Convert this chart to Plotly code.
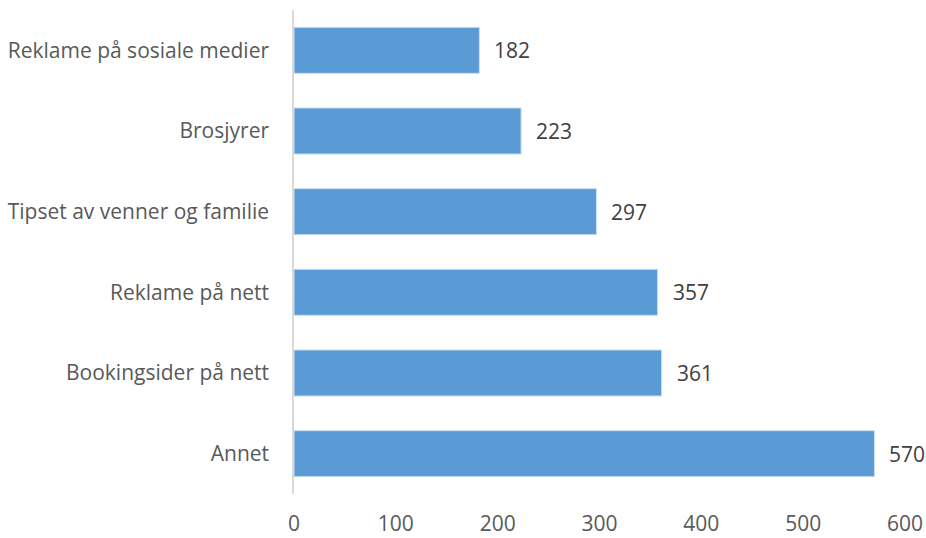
import plotly.graph_objects as go

# Survey: where respondents heard about the offer (counts)
categories = [
    "Annet",
    "Bookingsider på nett",
    "Reklame på nett",
    "Tipset av venner og familie",
    "Brosjyrer",
    "Reklame på sosiale medier",
]
counts = [570, 361, 357, 297, 223, 182]
x_ticks = [0, 100, 200, 300, 400, 500, 600]

FONT = "Open Sans"
TEXT_COLOR = "#595959"
BAR_COLOR = "#5B9BD5"
SIZE = 21

fig = go.Figure(
    go.Bar(
        x=counts,
        y=categories,
        orientation="h",
        marker=dict(color=BAR_COLOR, line=dict(color="#C9DDF0", width=1)),
        hoverinfo="x+y",
    )
)

# value labels just right of each bar end
for cat, val in zip(categories, counts):
    fig.add_annotation(
        x=val, y=cat, text=str(val), showarrow=False,
        xanchor="left", xshift=13,
        font=dict(family=FONT, size=SIZE, color="#404040"),
    )

fig.update_layout(
    width=926, height=538,
    margin=dict(l=294, r=21, t=10, b=44),
    paper_bgcolor="white", plot_bgcolor="white",
    bargap=0.43,
    showlegend=False,
    font=dict(family=FONT, size=SIZE, color=TEXT_COLOR),
)
fig.update_xaxes(
    range=[0, 600], tickvals=x_ticks, showgrid=False, zeroline=False,
    showline=False, ticks="", ticklabelstandoff=15, automargin=False,
    tickfont=dict(family=FONT, size=SIZE, color=TEXT_COLOR),
)
fig.update_yaxes(
    showline=True, linecolor="#D9D9D9", linewidth=1.5, ticks="",
    showgrid=False, ticklabelstandoff=19, automargin=False,
    tickfont=dict(family=FONT, size=SIZE, color=TEXT_COLOR),
)

fig.write_html("out.html")
